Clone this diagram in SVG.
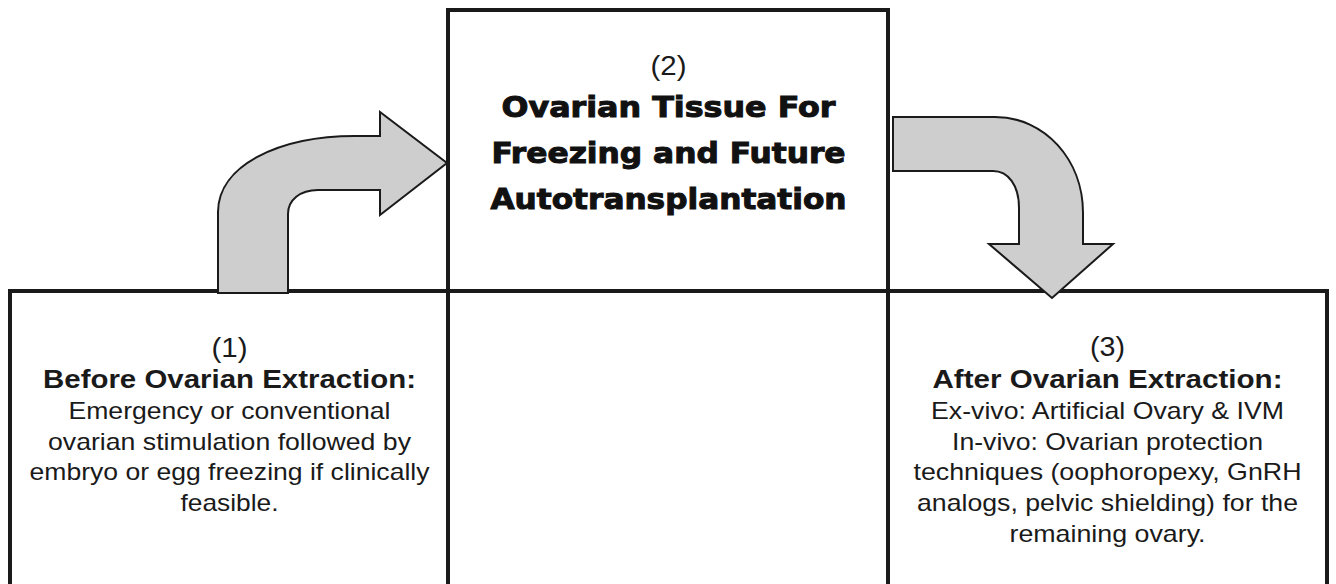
<svg xmlns="http://www.w3.org/2000/svg" width="1336" height="584" viewBox="0 0 1336 584">
<style>
.box{fill:#ffffff;stroke:#1a1a1a;stroke-width:4}
.arrow{fill:#cdcecd;stroke:#1a1a1a;stroke-width:2;stroke-linejoin:miter}
.t{font-family:"Liberation Sans",Arial,sans-serif;fill:#1a1a1a;text-anchor:middle}
.num{font-size:28px}
.hd{font-size:26px;font-weight:bold}
.bd{font-size:24px}
.hv{font-family:"DejaVu Sans","Liberation Sans",sans-serif;font-size:28px;font-weight:bold;fill:#111111;stroke:#111111;stroke-width:1;text-anchor:middle}
</style>
<rect width="1336" height="584" fill="#ffffff"/>
<g id="node-1">
<rect class="box" x="10" y="291" width="438" height="320"/>
<text class="t num" x="229.5" y="357" textLength="36" lengthAdjust="spacingAndGlyphs">(1)</text>
<text class="t hd" x="229.5" y="388" textLength="373" lengthAdjust="spacingAndGlyphs">Before Ovarian Extraction:</text>
<text class="t bd" x="229.5" y="419" textLength="322" lengthAdjust="spacingAndGlyphs">Emergency or conventional</text>
<text class="t bd" x="229.5" y="450" textLength="363" lengthAdjust="spacingAndGlyphs">ovarian stimulation followed by</text>
<text class="t bd" x="229.5" y="480" textLength="400" lengthAdjust="spacingAndGlyphs">embryo or egg freezing if clinically</text>
<text class="t bd" x="229.5" y="511" textLength="98" lengthAdjust="spacingAndGlyphs">feasible.</text>
</g>
<g id="node-3">
<rect class="box" x="888" y="291" width="439" height="320"/>
<text class="t num" x="1107.5" y="356" textLength="35" lengthAdjust="spacingAndGlyphs">(3)</text>
<text class="t hd" x="1107.5" y="388" textLength="350" lengthAdjust="spacingAndGlyphs">After Ovarian Extraction:</text>
<text class="t bd" x="1107.5" y="419" textLength="353" lengthAdjust="spacingAndGlyphs">Ex-vivo: Artificial Ovary &amp; IVM</text>
<text class="t bd" x="1107.5" y="450" textLength="311" lengthAdjust="spacingAndGlyphs">In-vivo: Ovarian protection</text>
<text class="t bd" x="1107.5" y="480" textLength="388" lengthAdjust="spacingAndGlyphs">techniques (oophoropexy, GnRH</text>
<text class="t bd" x="1107.5" y="511" textLength="381" lengthAdjust="spacingAndGlyphs">analogs, pelvic shielding) for the</text>
<text class="t bd" x="1107.5" y="542" textLength="196" lengthAdjust="spacingAndGlyphs">remaining ovary.</text>
</g>
<g id="node-2">
<rect class="box" x="448" y="10" width="440" height="281"/>
<text class="t num" x="668.5" y="75" textLength="36" lengthAdjust="spacingAndGlyphs">(2)</text>
<text class="hv" x="668.5" y="117" textLength="334" lengthAdjust="spacingAndGlyphs">Ovarian Tissue For</text>
<text class="hv" x="668.5" y="163" textLength="354" lengthAdjust="spacingAndGlyphs">Freezing and Future</text>
<text class="hv" x="668.5" y="209" textLength="356" lengthAdjust="spacingAndGlyphs">Autotransplantation</text>
</g>
<g id="connectors">
<path id="arrow-1-2" class="arrow" d="M218,293 L218,212 C218,165 280,136 355,136 L380,136 L380,112 L447,163 L380,215 L380,190 L318,190 C300,190 288,200 288,214 L288,293 Z"/>
<path id="arrow-2-3" class="arrow" d="M893,117 L995,117 C1045,117 1083,160 1083,213 L1083,244 L1113,244 L1052,298 L989,244 L1019,244 L1019,208 C1019,185 1008,171 993,171 L893,171 Z"/>
</g>
</svg>
